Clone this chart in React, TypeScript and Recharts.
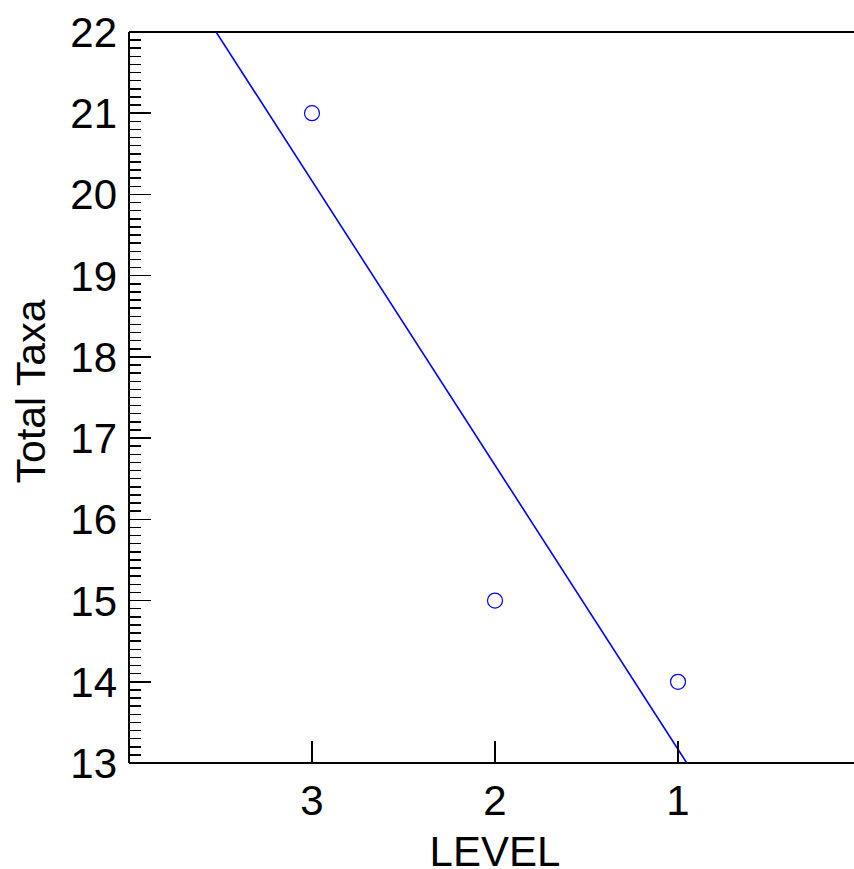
import React from "react";
import { ScatterChart, Scatter, XAxis, YAxis, Label } from "recharts";

// observed points
const levels = [3, 2, 1];
const totalTaxa = [21, 15, 14];

const fitLevel = [3.524, 0.952];
const fitTaxa = [22, 13];

const xTicks = [1, 2, 3];
const yAllTicks = Array.from({ length: 91 }, (_, i) => Math.round((13 + i * 0.1) * 10) / 10);

const FONT = "'Liberation Sans', Arial, sans-serif";
const BLUE = "#0000ff";

const points = levels.map((x, i) => ({ x, y: totalTaxa[i] }));
const fit = fitLevel.map((x, i) => ({ x, y: fitTaxa[i] }));

const isMajor = (v: number) => Math.abs(v - Math.round(v)) < 1e-6;

function LeftTick(props: any) {
  const { x, y, payload } = props;
  const v = payload.value;
  const major = isMajor(v);
  return (
    <g>
      <line
        x1={x}
        x2={x + (major ? 22 : 12)}
        y1={y}
        y2={y}
        stroke="#000"
        strokeWidth={1.5}
        shapeRendering="crispEdges"
      />
      {major && (
        <text x={x - 12} y={y} dy={15} textAnchor="end" fontSize={42} fontFamily={FONT} fill="#000">
          {v}
        </text>
      )}
    </g>
  );
}

function RightTick(props: any) {
  const { x, y, payload } = props;
  const major = isMajor(payload.value);
  return (
    <line
      x1={x}
      x2={x - (major ? 22 : 12)}
      y1={y}
      y2={y}
      stroke="#000"
      strokeWidth={1.5}
      shapeRendering="crispEdges"
    />
  );
}

function BottomTick(props: any) {
  const { x, y, payload } = props;
  return (
    <g>
      <line x1={x} x2={x} y1={y} y2={y - 22} stroke="#000" strokeWidth={1.5} shapeRendering="crispEdges" />
      <text x={x} y={y} dy={52} textAnchor="middle" fontSize={42} fontFamily={FONT} fill="#000">
        {payload.value}
      </text>
    </g>
  );
}

function TopTick(props: any) {
  const { x, y } = props;
  return <line x1={x} x2={x} y1={y} y2={y + 22} stroke="#000" strokeWidth={1.5} shapeRendering="crispEdges" />;
}

function YTitle(props: any) {
  const vb = props.viewBox || { x: 0, y: 32, width: 129, height: 731 };
  const tx = vb.x + 45;
  const ty = vb.y + vb.height / 2 - 6;
  return (
    <text
      x={tx}
      y={ty}
      transform={`rotate(-90 ${tx} ${ty})`}
      textAnchor="middle"
      fontSize={41}
      fontFamily={FONT}
      fill="#000"
    >
      Total Taxa
    </text>
  );
}

function XTitle(props: any) {
  const vb = props.viewBox || { x: 129, y: 763, width: 732, height: 106 };
  return (
    <text
      x={vb.x + vb.width / 2}
      y={vb.y + vb.height - 3}
      textAnchor="middle"
      fontSize={42}
      fontFamily={FONT}
      fill="#000"
    >
      LEVEL
    </text>
  );
}

const axisLine = { stroke: "#000", strokeWidth: 1.5, shapeRendering: "crispEdges" };

export default function App() {
  return (
    <div style={{ position: "absolute", left: 0, top: 0, width: 854, height: 869, overflow: "hidden", background: "#fff" }}>
      <ScatterChart width={862} height={869} margin={{ top: 0, right: 1, bottom: 0, left: 0 }}>
        <XAxis
          xAxisId="b"
          type="number"
          dataKey="x"
          domain={[0, 4]}
          reversed
          allowDataOverflow
          ticks={xTicks}
          interval={0}
          height={106}
          tickSize={0}
          tickMargin={0}
          tickLine={false}
          axisLine={axisLine}
          tick={<BottomTick />}
        >
          <Label content={<XTitle />} />
        </XAxis>
        <XAxis
          xAxisId="t"
          orientation="top"
          type="number"
          domain={[0, 4]}
          reversed
          allowDataOverflow
          ticks={xTicks}
          interval={0}
          height={32}
          tickSize={0}
          tickMargin={0}
          tickLine={false}
          axisLine={axisLine}
          tick={<TopTick />}
        />
        <YAxis
          yAxisId="l"
          type="number"
          dataKey="y"
          domain={[13, 22]}
          allowDataOverflow
          ticks={yAllTicks}
          interval={0}
          width={129}
          tickSize={0}
          tickMargin={0}
          tickLine={false}
          axisLine={axisLine}
          tick={<LeftTick />}
        >
          <Label content={<YTitle />} />
        </YAxis>
        <YAxis
          yAxisId="r"
          orientation="right"
          type="number"
          domain={[13, 22]}
          allowDataOverflow
          ticks={yAllTicks}
          interval={0}
          width={0}
          tickSize={0}
          tickMargin={0}
          tickLine={false}
          axisLine={axisLine}
          tick={<RightTick />}
        />
        <Scatter
          xAxisId="b"
          yAxisId="l"
          data={fit}
          fill={BLUE}
          line={{ stroke: BLUE, strokeWidth: 1.6 }}
          shape={() => <g />}
          isAnimationActive={false}
        />
        <Scatter
          xAxisId="b"
          yAxisId="l"
          data={points}
          fill="none"
          shape={(p: any) => <circle cx={p.cx} cy={p.cy} r={7.5} fill="none" stroke={BLUE} strokeWidth={1.2} />}
          isAnimationActive={false}
        />
      </ScatterChart>
    </div>
  );
}
